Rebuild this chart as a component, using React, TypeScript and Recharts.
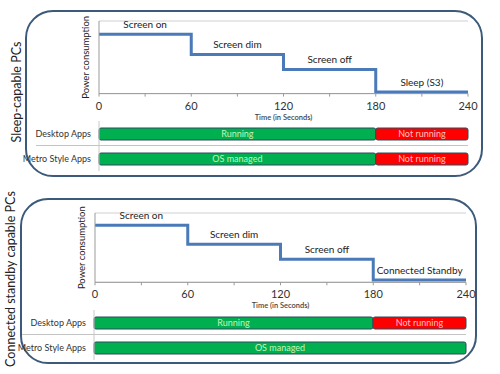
import React from "react";
import {
  LineChart,
  Line,
  BarChart,
  Bar,
  XAxis,
  YAxis,
  CartesianGrid,
  LabelList,
} from "recharts";

const seconds = [0, 60, 120, 180, 240];
const timeTicks = [0, 30, 60, 90, 120, 150, 180, 210, 240];

// power levels (arbitrary units)
const sleepPower = [2.45, 1.62, 1.0, 0.07, 0.07];
const standbyPower = [2.47, 1.65, 1.0, 0.1, 0.1];
const sleepStates = ["Screen on", "Screen dim", "Screen off", "Sleep (S3)"];
const standbyStates = ["Screen on", "Screen dim", "Screen off", "Connected Standby"];

const apps = ["Desktop Apps", "Metro Style Apps"];
const sleepActive = [180, 180];
const sleepInactive = [60, 60];
const sleepActiveLabels = ["Running", "OS managed"];
const sleepInactiveLabels = ["Not running", "Not running"];
const standbyActive = [180, 240];
const standbyInactive = [60, 0];
const standbyActiveLabels = ["Running", "OS managed"];
const standbyInactiveLabels = ["Not running", ""];

const FONT = 'Lato, "Open Sans", sans-serif';

const powerRows = (power: number[]) => seconds.map((t, i) => ({ t, p: power[i] }));
const stateRows = (power: number[], states: string[]) =>
  states.map((name, i) => ({ t: (seconds[i] + seconds[i + 1]) / 2, p: power[i], name }));
const appRows = (on: number[], off: number[], onL: string[], offL: string[]) =>
  apps.map((app, i) => ({ app, on: on[i], off: off[i], onLabel: onL[i], offLabel: offL[i] }));

const TimeTick = (props: any) => {
  const { x, y, payload } = props;
  if (payload.value % 60 !== 0) return <g />;
  return (
    <text x={x} y={y} dy={11} textAnchor="middle" fontSize={11} fill="#333" fontFamily={FONT}>
      {payload.value}
    </text>
  );
};

const AppTick = (props: any) => {
  const { x, y, payload } = props;
  return (
    <text x={x} y={y} dy={3} textAnchor="end" fontSize={9} fill="#333" fontFamily={FONT}>
      {payload.value}
    </text>
  );
};

const PowerChart = ({ power, states, top, left, right, plotH }: any) => (
  <div style={{ position: "absolute", top, left: 0 }}>
    <LineChart
      width={500}
      height={21 + plotH + 30}
      margin={{ top: 21, right, left: left - 26, bottom: 0 }}
    >
      <CartesianGrid vertical={false} stroke="#cfcfcf" />
      <XAxis
        type="number"
        dataKey="t"
        domain={[0, 240]}
        ticks={timeTicks}
        interval={0}
        tick={<TimeTick />}
        tickSize={3}
        stroke="#9a9a9a"
        height={30}
        label={{
          value: "Time (in Seconds)",
          position: "insideBottom",
          offset: 4,
          fontSize: 7.5,
          fontWeight: 600,
          fill: "#444",
          fontFamily: FONT,
        }}
      />
      <YAxis
        type="number"
        domain={[0, 3]}
        ticks={[0, 1, 2, 3]}
        width={26}
        tick={false}
        tickSize={3}
        stroke="#9a9a9a"
        label={{
          value: "Power consumption",
          angle: -90,
          position: "center",
          fontSize: 9.5,
          fill: "#222",
          fontFamily: FONT,
        }}
      />
      <Line
        data={powerRows(power)}
        dataKey="p"
        type="stepAfter"
        stroke="#4a7ab8"
        strokeWidth={3}
        dot={false}
        isAnimationActive={false}
      />
      <Line
        data={stateRows(power, states)}
        dataKey="p"
        stroke="none"
        dot={false}
        isAnimationActive={false}
      >
        <LabelList dataKey="name" position="top" offset={6} fontSize={10} fill="#222" fontFamily={FONT} />
      </Line>
    </LineChart>
  </div>
);

const AppChart = ({ rows, top, left, right }: any) => (
  <div style={{ position: "absolute", top, left: 0 }}>
    <BarChart
      layout="vertical"
      width={500}
      height={50}
      data={rows}
      margin={{ top: 0, right, left: 0, bottom: 0 }}
    >
      <XAxis type="number" domain={[0, 240]} hide />
      <YAxis
        type="category"
        dataKey="app"
        width={left}
        axisLine={{ stroke: "#c8c8c8" }}
        tickLine={false}
        tick={<AppTick />}
      />
      <Bar dataKey="on" stackId="a" barSize={12} fill="#00b050" stroke="#2f4b5c" radius={2} isAnimationActive={false}>
        <LabelList dataKey="onLabel" position="center" fontSize={9} fill="#c4f5bc" fontFamily={FONT} />
      </Bar>
      <Bar dataKey="off" stackId="a" barSize={12} fill="#ff0000" stroke="#2f4b5c" radius={2} isAnimationActive={false}>
        <LabelList dataKey="offLabel" position="center" fontSize={9} fill="#ffc2c2" fontFamily={FONT} />
      </Bar>
    </BarChart>
  </div>
);

const boxStyle = (left: number, top: number, width: number, height: number): React.CSSProperties => ({
  position: "absolute",
  left,
  top,
  width,
  height,
  border: "2px solid #3c5a7a",
  borderRadius: 28,
  boxSizing: "border-box",
});

const sideLabel = (text: string, cx: number, cy: number) => (
  <div
    style={{
      position: "absolute",
      left: cx,
      top: cy,
      transform: "translate(-50%, -50%) rotate(-90deg)",
      whiteSpace: "nowrap",
      fontSize: 12.5,
      color: "#222",
      fontFamily: FONT,
    }}
  >
    {text}
  </div>
);

const separator = (left: number, right: number, top: number) => (
  <div style={{ position: "absolute", left, top, width: right - left, height: 1, background: "#c4c4c4" }} />
);

export default function App() {
  return (
    <div style={{ position: "absolute", left: 0, top: 0, width: 500, height: 374, background: "#fff", overflow: "hidden" }}>
      <div style={boxStyle(25, 10, 458, 167)} />
      <div style={boxStyle(20, 198, 457, 166)} />
      {sideLabel("Sleep-capable PCs", 16, 92)}
      {sideLabel("Connected standby capable PCs", 10, 279)}

      <PowerChart power={sleepPower} states={sleepStates} top={0} left={99} right={32} plotH={72.6} />
      {separator(36, 468, 145)}
      <AppChart
        rows={appRows(sleepActive, sleepInactive, sleepActiveLabels, sleepInactiveLabels)}
        top={120.5}
        left={99}
        right={32}
      />

      <PowerChart power={standbyPower} states={standbyStates} top={192} left={95} right={34} plotH={69.3} />
      {separator(22, 466, 334)}
      <AppChart
        rows={appRows(standbyActive, standbyInactive, standbyActiveLabels, standbyInactiveLabels)}
        top={309.5}
        left={94}
        right={34}
      />
    </div>
  );
}
